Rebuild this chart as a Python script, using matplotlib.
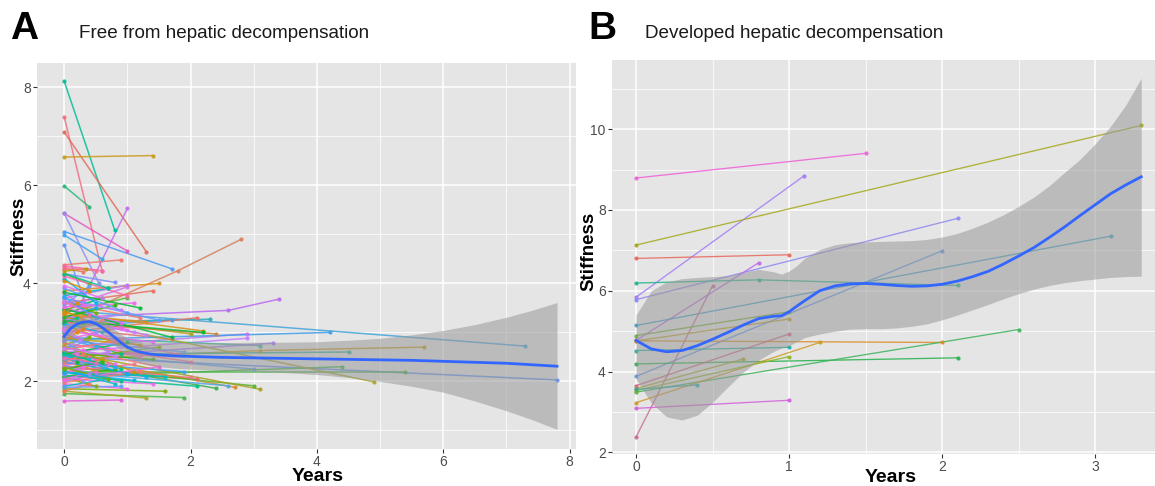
import numpy as np
import matplotlib.pyplot as plt
from matplotlib.ticker import MultipleLocator

plt.rcParams['font.family'] = ['Liberation Sans', 'DejaVu Sans']

# ---------------- panel A : free from hepatic decompensation ----------------
# one entry per patient: follow-up times (years) and stiffness values
a_times = [
    [0, 0.8], [0, 0.6], [0, 1.3], [0, 1.4], [0, 0.4], [0, 1.0], [0, 0.55], [0, 1.0],
    [0, 1.7], [0, 0.6], [0, 0.45], [0, 0.9], [0, 1.8, 2.8], [0, 0.6], [0, 0.3], [0, 1.5],
    [0, 1.4], [0, 1.0], [0, 1.0], [0, 0.8], [0, 1.0], [0, 0.4], [0, 2.6, 3.4], [0, 7.3],
    [0, 1.7], [0, 2.3], [0, 2.1], [0, 1.3], [0, 2.2], [0, 2.0], [0, 2.4], [0, 2.9],
    [0, 2.9], [0, 1.7], [0, 3.1], [0, 3.3], [0, 4.2], [0, 3.1, 5.7], [0, 4.5], [0, 3.0],
    [0, 7.8], [0, 4.4], [0, 5.4], [0, 4.9], [0, 2.0], [0, 2.1], [0, 2.4], [0, 2.7],
    [0, 3.0], [0, 3.1], [0, 2.6], [0, 1.9], [0, 1.3], [0, 0.9],
    # dense block near baseline
    [0, 0.3], [0, 0.7], [0, 0.5], [0, 1.2], [0, 0.4], [0, 0.9], [0, 0.6], [0, 0.3],
    [0, 1.1], [0, 0.5], [0, 0.8], [0, 0.2], [0, 1.0], [0, 0.4], [0, 0.7], [0, 0.3],
    [0, 1.2], [0, 0.5], [0, 0.9], [0, 0.6], [0, 0.4], [0, 1.5], [0, 0.3], [0, 0.8],
    [0, 1.0], [0, 0.5], [0, 0.7], [0, 1.3], [0, 0.4], [0, 0.9], [0, 0.6], [0, 1.1],
    [0, 0.3], [0, 0.8], [0, 1.4], [0, 0.5], [0, 1.0], [0, 0.7], [0, 1.6], [0, 0.4],
    [0, 1.5], [0, 1.0], [0, 1.7], [0, 0.2], [0, 1.3], [0, 0.6], [0, 1.8], [0, 0.9],
    [0, 1.2], [0, 2.0], [0, 0.5], [0, 1.4], [0, 0.3], [0, 1.9], [0, 0.7], [0, 1.6],
    [0, 0.5], [0, 1.2], [0, 0.9], [0, 0.2], [0, 0.2], [0, 0.2], [0, 0.25], [0, 1.0],
    [0, 1.2], [0, 2.1], [0, 1.1], [0, 0.6], [0, 1.0], [0, 0.8], [0, 1.1], [0, 0.5],
    [0, 1.5], [0, 0.8], [0, 1.5], [0, 0.9], [0, 1.9], [0, 1.4], [0, 2.2], [0, 0.7],
    [0, 0.9], [0, 0.5], [0, 1.0], [0, 0.7], [0, 0.35], [0, 0.5],
    [0, 0.4], [0, 0.6], [0, 0.3], [0, 0.8], [0, 0.5], [0, 0.4], [0, 0.7], [0, 0.3],
    [0, 1.0], [0, 0.6], [0, 1.2], [0, 0.4], [0, 0.8], [0, 1.1], [0, 0.5], [0, 0.9],
]
a_stiff = [
    [8.13, 5.09], [7.40, 4.26], [7.09, 4.65], [6.58, 6.61], [5.99, 5.56], [5.43, 4.66], [5.43, 4.00], [2.90, 5.53],
    [5.06, 4.30], [4.99, 4.50], [4.79, 3.20], [4.38, 4.48], [3.22, 4.26, 4.90], [4.36, 4.26], [4.30, 4.24], [3.85, 4.00],
    [3.60, 3.85], [3.70, 3.97], [3.50, 3.93], [4.20, 4.02], [3.40, 3.71], [4.20, 3.99], [3.30, 3.45, 3.68], [3.45, 2.72],
    [3.10, 3.26], [3.20, 3.27], [3.00, 3.30], [3.35, 3.22], [3.40, 3.03], [3.30, 2.97], [3.20, 2.97], [2.70, 2.97],
    [2.60, 2.88], [3.10, 2.86], [2.90, 2.73], [2.50, 2.78], [2.85, 3.00], [2.45, 2.63, 2.70], [2.55, 2.60], [2.60, 2.25],
    [2.50, 2.03], [2.10, 2.30], [2.20, 2.20], [3.30, 1.99], [2.30, 2.08], [2.20, 2.05], [2.40, 1.86], [2.50, 1.88],
    [2.30, 1.91], [2.60, 1.84], [2.20, 1.91], [1.75, 1.67], [1.80, 1.66], [1.60, 1.62],
    [3.80, 3.55], [3.75, 3.90], [3.65, 3.40], [3.60, 3.30], [3.55, 3.95], [3.50, 3.20], [3.45, 3.70], [3.40, 3.10],
    [3.35, 3.00], [3.30, 3.50], [3.25, 2.80], [3.20, 3.30], [3.15, 2.70], [3.10, 3.35], [3.05, 2.60], [3.00, 3.20],
    [2.95, 2.50], [2.90, 2.70], [2.85, 3.10], [2.80, 2.40], [2.75, 2.90], [2.70, 2.30], [2.65, 2.80], [2.60, 2.35],
    [2.55, 2.80], [2.50, 2.20], [2.45, 2.60], [2.40, 2.10], [2.35, 2.50], [2.30, 2.00], [2.25, 2.45], [2.20, 2.35],
    [2.15, 2.00], [2.10, 2.25], [2.05, 1.95], [2.00, 2.15], [1.95, 1.85], [1.90, 2.05], [1.85, 1.80], [1.80, 1.95],
    [3.70, 3.25], [3.62, 3.05], [3.48, 2.90], [3.38, 3.60], [3.28, 2.95], [3.18, 3.00], [3.08, 2.55], [2.98, 2.55],
    [2.88, 2.75], [2.78, 2.40], [2.68, 3.00], [2.58, 2.45], [2.48, 2.65], [2.38, 2.20], [2.28, 2.35], [2.18, 2.10],
    [2.08, 1.90], [1.98, 2.20], [1.88, 1.90], [2.42, 2.55], [2.62, 2.40], [2.82, 3.00], [3.02, 2.85], [2.52, 2.15],
    [2.32, 2.60], [2.12, 1.90], [2.72, 2.20], [2.92, 3.25], [3.12, 3.40], [3.32, 3.55], [3.52, 3.60], [3.72, 3.30],
    [2.02, 2.30], [2.22, 1.95], [2.44, 2.70], [2.64, 2.85], [2.84, 2.60], [3.04, 2.80], [3.24, 3.00], [3.44, 3.05],
    [3.64, 3.45], [4.10, 3.60], [4.15, 3.75], [4.20, 3.90], [4.25, 4.30], [4.32, 4.26],
    [2.35, 2.15], [2.25, 2.40], [2.15, 2.30], [2.45, 2.30], [2.05, 2.20], [2.55, 2.45], [2.28, 2.05], [2.38, 2.55],
    [3.90, 3.40], [3.95, 3.70], [3.82, 3.50], [4.05, 3.85], [2.68, 2.52], [2.18, 2.02], [2.48, 2.38], [2.58, 2.25],
]

# loess fit
a_fit_x = [0, 0.1, 0.2, 0.3, 0.4, 0.5, 0.6, 0.7, 0.8, 0.9, 1.0, 1.1, 1.2, 1.35, 1.5, 1.75,
           2.0, 2.5, 3.0, 3.5, 4.0, 4.5, 5.0, 5.5, 6.0, 6.5, 7.0, 7.4, 7.8]
a_fit = [2.92, 3.08, 3.17, 3.21, 3.22, 3.18, 3.10, 3.00, 2.90, 2.79, 2.70, 2.64, 2.60, 2.56, 2.54, 2.52,
         2.51, 2.49, 2.48, 2.47, 2.46, 2.45, 2.44, 2.43, 2.41, 2.39, 2.37, 2.34, 2.31]
a_fit_lo = [2.78, 2.96, 3.06, 3.10, 3.10, 3.05, 2.96, 2.85, 2.74, 2.62, 2.52, 2.44, 2.38, 2.33, 2.30, 2.27,
            2.25, 2.23, 2.21, 2.18, 2.14, 2.08, 2.00, 1.90, 1.78, 1.60, 1.40, 1.22, 1.02]
a_fit_hi = [3.06, 3.20, 3.28, 3.32, 3.34, 3.31, 3.24, 3.15, 3.06, 2.96, 2.88, 2.84, 2.82, 2.80, 2.80, 2.79,
            2.79, 2.79, 2.80, 2.80, 2.81, 2.84, 2.88, 2.95, 3.04, 3.16, 3.31, 3.45, 3.61]

# ---------------- panel B : developed hepatic decompensation ----------------
b_times = [
    [0, 1.5], [0, 1.1], [0, 3.3], [0, 1.0], [0, 2.1], [0, 0.8], [0, 0.8, 2.1], [0, 2.0],
    [0, 3.1], [0, 0.5], [0, 1.0], [0, 1.0], [0, 2.0], [0, 1.0], [0, 2.1], [0, 2.5],
    [0, 1.0], [0, 1.2], [0, 0.7], [0, 1.0], [0, 0.4], [0, 1.0],
]
b_stiff = [
    [8.79, 9.40], [5.84, 8.85], [7.13, 10.09], [6.80, 6.89], [5.78, 7.79], [4.77, 6.69], [6.19, 6.27, 6.13], [3.88, 6.99],
    [5.14, 7.35], [2.38, 6.12], [4.89, 5.48], [4.76, 5.30], [4.76, 4.72], [4.52, 4.60], [4.19, 4.34], [3.49, 5.04],
    [3.65, 4.93], [3.23, 4.72], [3.58, 4.31], [3.53, 4.37], [3.56, 3.67], [3.09, 3.29],
]

b_fit_x = [0, 0.1, 0.2, 0.3, 0.4, 0.5, 0.6, 0.7, 0.8, 0.9, 0.95, 1.0, 1.05, 1.1, 1.2, 1.3, 1.4, 1.5,
           1.6, 1.7, 1.8, 1.9, 2.0, 2.1, 2.2, 2.3, 2.4, 2.5, 2.6, 2.7, 2.8, 2.9, 3.0, 3.1, 3.2, 3.3]
b_fit = [4.77, 4.56, 4.49, 4.52, 4.64, 4.80, 4.97, 5.15, 5.31, 5.37, 5.38, 5.48, 5.62, 5.75, 6.00, 6.12, 6.17, 6.18,
         6.16, 6.13, 6.11, 6.12, 6.16, 6.24, 6.35, 6.48, 6.66, 6.86, 7.07, 7.32, 7.58, 7.86, 8.13, 8.40, 8.62, 8.82]
b_fit_lo = [3.82, 3.22, 2.88, 2.80, 2.92, 3.24, 3.62, 3.98, 4.28, 4.50, 4.58, 4.64, 4.74, 4.84, 4.93, 5.00, 5.05, 5.06,
            5.06, 5.08, 5.12, 5.18, 5.28, 5.40, 5.53, 5.66, 5.80, 5.93, 6.04, 6.13, 6.20, 6.25, 6.29, 6.33, 6.35, 6.36]
b_fit_hi = [5.40, 6.00, 6.22, 6.30, 6.33, 6.35, 6.37, 6.45, 6.53, 6.47, 6.41, 6.49, 6.62, 6.80, 7.02, 7.14, 7.19, 7.21,
            7.22, 7.23, 7.24, 7.27, 7.33, 7.42, 7.55, 7.70, 7.88, 8.09, 8.32, 8.60, 8.93, 9.25, 9.64, 10.07, 10.60, 11.26]

# ---------------- colours (ggplot hue style) ----------------
a_first_colors = [
    '#00BE9A', '#F0707E', '#E36A5E', '#C99A1C', '#2DB67D', '#E05ABF', '#8F8FF5', '#C46BF2',
    '#4C9BF2', '#3DA5F0', '#5E96F0', '#F0766A', '#D9805A', '#F467B0', '#E8736A', '#DB8E1A',
    '#E86F60', '#B57CF7', '#D070EE', '#7B8EF5', '#56B43A', '#6CB02A', '#B96AF0', '#45A4DA',
    '#4E9CF0', '#2AACB8', '#E4736A', '#DE8C1C', '#D5901A', '#AAA21A', '#C9823A', '#B67BF5',
    '#C77CFF', '#E0706E', '#3DB59A', '#A278F5', '#3F9DE8', '#C39A1E', '#2AAE96', '#5A9BEE',
    '#5D8EF0', '#43B548', '#4DB14A', '#A9A52A', '#F06E8C', '#E4636F', '#3BB04A', '#D98A2A',
    '#55B330', '#A5A11E', '#4CA8E8', '#48B847', '#A9A622', '#E560D8',
]
hue_cycle = ['#F564E3', '#00BFC4', '#7CAE00', '#F8766D', '#619CFF', '#E76BF3', '#00BA38',
             '#DE8C00', '#C77CFF', '#00B4F0', '#FF64B0', '#00C08B', '#B79F00', '#FF6C91',
             '#9590FF', '#39B600', '#F066EA', '#35A2FF']
b_colors = ['#EF5FD8', '#A17BF7', '#A4A81A', '#E8685C', '#8C86F2', '#C065E6', '#1FB48C', '#5C92EC',
            '#3A9FC6', '#C96A92', '#6DAE2A', '#C59A22', '#DD8A1F', '#1EAE9E', '#22B24A', '#3CB35A',
            '#D0667D', '#CF9920', '#A9A32A', '#8CB320', '#2EA6A8', '#D45FDC']

PANEL = '#E5E5E5'
SMOOTH = '#3366FF'


def style_axes(ax, xlab_xy, ylab_xy):
    ax.set_facecolor(PANEL)
    for s in ax.spines.values():
        s.set_visible(False)
    ax.grid(which='major', color='white', lw=1.1)
    ax.grid(which='minor', color='white', lw=0.55)
    ax.set_axisbelow(True)
    ax.tick_params(which='major', length=3, width=0.8, color='#333333',
                   labelcolor='#4D4D4D', labelsize=10, pad=1.5)
    ax.tick_params(which='minor', length=0)
    ax.set_xlabel('Years', fontsize=14, fontweight='bold')
    ax.set_ylabel('Stiffness', fontsize=13.5, fontweight='bold')
    ax.xaxis.set_label_coords(*xlab_xy)
    ax.yaxis.set_label_coords(*ylab_xy)


def draw_patients(ax, times, stiff, colors, lw):
    for i, (t, y) in enumerate(zip(times, stiff)):
        c = colors[i]
        ax.plot(t, y, color=c, lw=lw, alpha=0.85, zorder=2)
        ax.plot(t, y, 'o', color=c, ms=3.0, mew=0, alpha=0.9, zorder=3)


fig = plt.figure(figsize=(11.55, 4.86), dpi=100)
W, H = 1155, 486

# panel A
axA = fig.add_axes([37 / W, 1 - 449 / H, 539 / W, 386 / H])
colsA = a_first_colors + [hue_cycle[i % len(hue_cycle)]
                          for i in range(len(a_times) - len(a_first_colors))]
draw_patients(axA, a_times, a_stiff, colsA, 1.1)
axA.fill_between(a_fit_x, a_fit_lo, a_fit_hi, color='#999999', alpha=0.55, lw=0, zorder=4)
axA.plot(a_fit_x, a_fit, color=SMOOTH, lw=2.0, zorder=5)
axA.set_xlim(-0.43, 8.10)
axA.set_ylim(0.62, 8.50)
axA.xaxis.set_major_locator(MultipleLocator(2))
axA.xaxis.set_minor_locator(MultipleLocator(1))
axA.yaxis.set_major_locator(MultipleLocator(2))
axA.yaxis.set_minor_locator(MultipleLocator(1))
style_axes(axA, (0.52, -0.048), (-0.017, 0.55))

# panel B
axB = fig.add_axes([612 / W, 1 - 454 / H, 543 / W, 394 / H])
draw_patients(axB, b_times, b_stiff, b_colors, 0.95)
axB.fill_between(b_fit_x, b_fit_lo, b_fit_hi, color='#999999', alpha=0.55, lw=0, zorder=4)
axB.plot(b_fit_x, b_fit, color=SMOOTH, lw=2.0, zorder=5)
axB.set_xlim(-0.157, 3.39)
axB.set_ylim(1.96, 11.71)
axB.xaxis.set_major_locator(MultipleLocator(1))
axB.xaxis.set_minor_locator(MultipleLocator(0.5))
axB.yaxis.set_major_locator(MultipleLocator(2))
axB.yaxis.set_minor_locator(MultipleLocator(1))
style_axes(axB, (0.513, -0.038), (-0.026, 0.515))

# panel letters and titles
fig.text(10 / W, 1 - 29 / H, 'A', fontsize=28, fontweight='bold', va='center', ha='left')
fig.text(79 / W, 1 - 33 / H, 'Free from hepatic decompensation', fontsize=13.6,
         va='center', ha='left', color='#1A1A1A')
fig.text(588 / W, 1 - 29 / H, 'B', fontsize=28, fontweight='bold', va='center', ha='left')
fig.text(645 / W, 1 - 33 / H, 'Developed hepatic decompensation', fontsize=13.6,
         va='center', ha='left', color='#1A1A1A')

fig.savefig('out.png', dpi=100)
